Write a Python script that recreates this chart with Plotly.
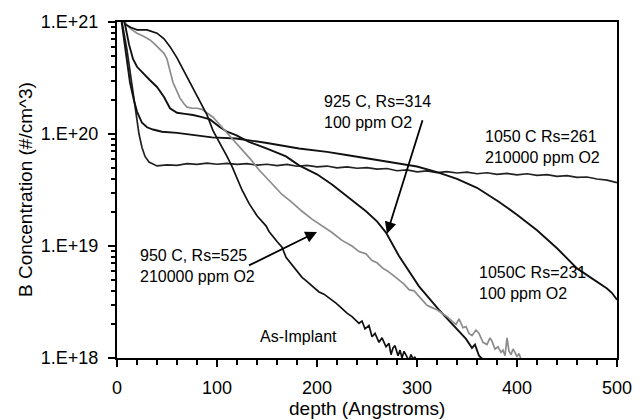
import plotly.graph_objects as go

# ---------------- data (depth in Angstroms, log10 of B concentration) ----------------
asimp_depth = [2, 8, 14, 20, 30, 40, 47, 53, 60, 66, 73, 80, 85, 90, 96, 103, 110, 115, 125,
               132, 140, 149, 152, 160, 165, 169, 175, 180, 185, 189, 195, 202, 207, 210, 215,
               219, 224, 230, 235, 242, 245, 248, 252, 255, 258, 262, 265, 269, 272, 274, 276,
               278, 281, 283, 285, 287, 290, 292, 294, 296, 298, 300]
asimp_log = [21.15, 20.98, 20.95, 20.93, 20.93, 20.90, 20.85, 20.78, 20.68, 20.58, 20.46, 20.35,
             20.26, 20.17, 20.03, 19.92, 19.80, 19.71, 19.50, 19.38, 19.27, 19.18, 19.13, 19.04,
             18.99, 18.90, 18.83, 18.77, 18.72, 18.69, 18.64, 18.59, 18.57, 18.55, 18.52, 18.49,
             18.45, 18.40, 18.37, 18.31, 18.33, 18.26, 18.29, 18.19, 18.22, 18.14, 18.18, 18.10,
             18.13, 18.03, 18.09, 18.11, 18.02, 18.07, 18.00, 18.06, 18.01, 17.98, 18.03, 17.99,
             18.01, 17.95]

g925_depth = [2, 8, 12, 16, 20, 26, 33, 40, 47, 53, 60, 68, 76, 85, 93, 103, 110, 119, 132, 150,
              169, 182, 200, 215, 232, 249, 260, 269, 282, 302, 322, 335, 349, 355, 358, 362, 368]
g925_log = [21.2, 20.98, 20.80, 20.67, 20.60, 20.54, 20.48, 20.42, 20.33, 20.23, 20.19, 20.18,
            20.17, 20.15, 20.13, 20.06, 20.02, 19.99, 19.93, 19.87, 19.80, 19.72, 19.64, 19.55,
            19.43, 19.31, 19.22, 19.12, 18.91, 18.64, 18.43, 18.30, 18.17, 18.09, 18.12, 18.02,
            17.97]

g950_depth = [3, 10, 15, 20, 27, 33, 38, 43, 47, 50, 53, 56, 60, 63, 67, 70, 75, 80, 85, 90, 96,
              101, 106, 111, 116, 122, 128, 135, 141, 148, 155, 165, 175, 185, 195, 205, 215, 225,
              235, 242, 249, 255, 260, 266, 270, 276, 282, 287, 292, 297, 302, 306, 310, 315, 320,
              325, 330, 335, 339, 342, 346, 349, 352, 355, 359, 362, 366, 370, 373, 375, 378, 381,
              384, 386, 388, 390, 392, 394, 396, 398, 400, 402, 404, 406]
g950_log = [21.1, 20.97, 20.93, 20.90, 20.87, 20.84, 20.80, 20.76, 20.72, 20.67, 20.57, 20.46,
            20.38, 20.32, 20.27, 20.24, 20.23, 20.23, 20.22, 20.19, 20.15, 20.10, 20.05, 20.00,
            19.96, 19.90, 19.84, 19.76, 19.69, 19.62, 19.55, 19.46, 19.39, 19.31, 19.24, 19.18,
            19.12, 19.05, 19.00, 18.95, 18.93, 18.87, 18.85, 18.80, 18.78, 18.74, 18.70, 18.66,
            18.61, 18.60, 18.55, 18.51, 18.47, 18.45, 18.43, 18.40, 18.37, 18.33, 18.30, 18.35,
            18.27, 18.28, 18.22, 18.20, 18.25, 18.22, 18.14, 18.12, 18.18, 18.15, 18.08, 18.10,
            18.05, 18.07, 18.02, 18.18, 18.06, 18.03, 18.08, 18.05, 18.01, 18.04, 17.99, 17.97]

g1050a_depth = [0, 5, 9, 13, 17, 20, 25, 30, 36, 45, 60, 80, 95, 119, 150, 182, 210, 231, 260,
                281, 300, 320, 340, 360, 381, 400, 420, 440, 460, 470, 480, 490, 495, 500]
g1050a_log = [21.3, 20.98, 20.75, 20.46, 20.30, 20.20, 20.10, 20.06, 20.04, 20.02, 20.01, 19.99,
              19.97, 19.96, 19.92, 19.87, 19.84, 19.81, 19.77, 19.74, 19.71, 19.66, 19.60, 19.52,
              19.40, 19.28, 19.14, 18.98, 18.80, 18.74, 18.68, 18.62, 18.58, 18.52]

g1050b_depth = [0, 5, 10, 15, 19, 22, 25, 28, 32, 36, 40, 50, 60, 70, 80, 90, 100, 110, 120, 130,
                140, 150, 160, 170, 180, 190, 200, 210, 220, 230, 240, 250, 260, 270, 280, 290,
                300, 310, 320, 330, 340, 350, 360, 370, 380, 390, 400, 410, 420, 430, 440, 450,
                460, 470, 480, 490, 500]
g1050b_log = [21.3, 21.0, 20.75, 20.42, 20.15, 20.0, 19.88, 19.80, 19.75, 19.73, 19.715, 19.725,
              19.720, 19.735, 19.728, 19.740, 19.730, 19.738, 19.728, 19.735, 19.722, 19.730,
              19.718, 19.728, 19.712, 19.720, 19.706, 19.714, 19.698, 19.706, 19.694, 19.700,
              19.686, 19.692, 19.672, 19.680, 19.662, 19.670, 19.656, 19.664, 19.652, 19.660,
              19.645, 19.654, 19.640, 19.648, 19.636, 19.645, 19.630, 19.638, 19.622, 19.628,
              19.612, 19.616, 19.598, 19.588, 19.565]

y_tickvals = [1e18, 1e19, 1e20, 1e21]
y_ticktext = ["1.E+18", "1.E+19", "1.E+20", "1.E+21"]
x_tickvals = [0, 100, 200, 300, 400, 500]
x_ticktext = ["0", "100", "200", "300", "400", "500"]

FONT = "Liberation Sans, Arial, sans-serif"
BLACK = "#111111"
GRAY = "#8c8c8c"


def pw(vals):
    return [10.0 ** v for v in vals]


fig = go.Figure()
series = [
    (g1050b_depth, g1050b_log, "#222222", 1.7),
    (g1050a_depth, g1050a_log, BLACK, 1.9),
    (g925_depth, g925_log, BLACK, 1.9),
    (g950_depth, g950_log, GRAY, 1.7),
    (asimp_depth, asimp_log, BLACK, 1.7),
]
for xs, ys, col, w in series:
    fig.add_trace(go.Scatter(x=xs, y=pw(ys), mode="lines",
                             line=dict(color=col, width=w), showlegend=False,
                             hoverinfo="skip"))

minor_y = [float(m) * 10.0 ** e for e in (18, 19, 20) for m in range(2, 10)]

fig.update_layout(
    width=644, height=420,
    margin=dict(l=117, r=25, t=15, b=62),
    paper_bgcolor="white", plot_bgcolor="white",
    font=dict(family=FONT, size=17, color="black"),
    xaxis=dict(range=[0, 500], tickvals=x_tickvals, ticktext=x_ticktext,
               showgrid=False, zeroline=False, showline=True, linecolor="black",
               linewidth=2, mirror=True, ticks="outside", ticklen=7, tickwidth=1.5,
               tickcolor="black", ticklabelstandoff=5,
               tickfont=dict(family=FONT, size=18, color="black"),
               minor=dict(dtick=20, ticks="outside", ticklen=5, tickwidth=1.5,
                          tickcolor="black", showgrid=False)),
    yaxis=dict(type="log", range=[18, 21], tickvals=y_tickvals, ticktext=y_ticktext,
               showgrid=False, zeroline=False, showline=True, linecolor="black",
               linewidth=2, mirror=True, ticks="outside", ticklen=7, tickwidth=1.5,
               tickcolor="black", ticklabelstandoff=6,
               tickfont=dict(family=FONT, size=18, color="black"),
               minor=dict(tickvals=minor_y, ticks="outside", ticklen=4, tickwidth=1.5,
                          tickcolor="black", showgrid=False)),
)

# axis titles
fig.add_annotation(text="depth (Angstroms)", xref="paper", yref="paper", x=0.5, y=0,
                   yshift=-50, showarrow=False, xanchor="center", yanchor="middle",
                   font=dict(family=FONT, size=19, color="black"))
fig.add_annotation(text="B Concentration (#/cm^3)", xref="paper", yref="paper",
                   x=0, xshift=-92, y=0.5, textangle=-90, showarrow=False,
                   xanchor="center", yanchor="middle",
                   font=dict(family=FONT, size=19, color="black"))

# text labels (x in Angstroms, y in log10 units)
labels = [
    ("925 C, Rs=314<br>100 ppm O2", 205, 20.198),
    ("950 C, Rs=525<br>210000 ppm O2", 21, 18.82),
    ("1050 C Rs=261<br>210000 ppm O2", 365.5, 19.888),
    ("1050C Rs=231<br>100 ppm O2", 359.6, 18.667),
]
for txt, lx, ly in labels:
    fig.add_annotation(text=txt, x=lx, y=ly, xref="x", yref="y", showarrow=False,
                       xanchor="left", yanchor="middle", align="left",
                       font=dict(family=FONT, size=16, color="black"))
fig.add_annotation(text="As-Implant", x=181, y=18.192, xref="x", yref="y",
                   showarrow=False, xanchor="center", yanchor="middle",
                   font=dict(family=FONT, size=16, color="black"))

# arrows
arrows = [
    (270, 19.11, 306, 20.137),
    (200, 19.126, 130.5, 18.82),
]
for tx, ty, sx, sy in arrows:
    fig.add_annotation(text="", x=tx, y=ty, ax=sx, ay=sy, xref="x", yref="y",
                       axref="x", ayref="y", showarrow=True, arrowhead=2,
                       arrowsize=1.3, arrowwidth=1.8, arrowcolor="black")

fig.write_html("out.html")
